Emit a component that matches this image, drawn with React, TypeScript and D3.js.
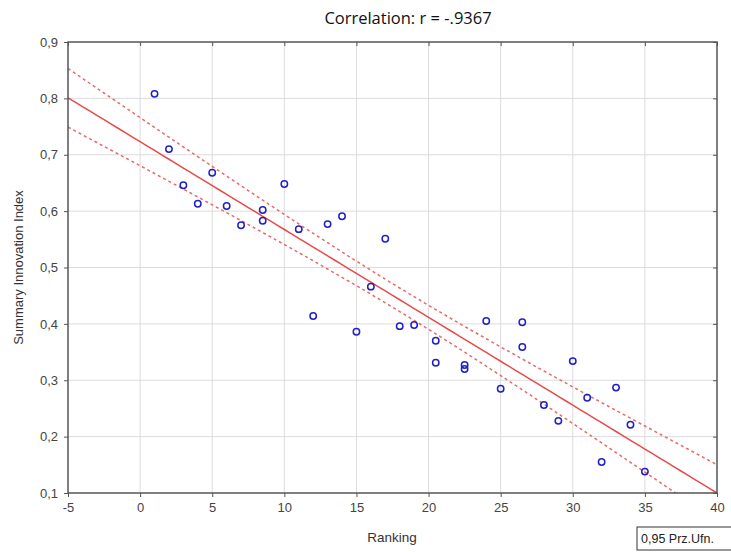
import { useEffect, useRef } from 'react';
import * as d3 from 'd3';

// Ranking (ties averaged) and Summary Innovation Index
const ranking = [
  1, 2, 3, 4, 5, 6, 7, 8.5, 8.5, 10, 11, 12, 13, 14, 15, 16, 17, 18, 19, 20.5, 20.5, 22.5, 22.5, 24,
  25, 26.5, 26.5, 28, 29, 30, 31, 32, 33, 34, 35,
];
const innovationIndex = [
  0.808, 0.71, 0.646, 0.613, 0.668, 0.609, 0.575, 0.602, 0.583, 0.648, 0.568, 0.414, 0.577, 0.591,
  0.386, 0.466, 0.551, 0.396, 0.398, 0.37, 0.331, 0.327, 0.32, 0.405, 0.285, 0.403, 0.359, 0.256,
  0.228, 0.334, 0.269, 0.155, 0.287, 0.221, 0.138,
];
const xTicks = [-5, 0, 5, 10, 15, 20, 25, 30, 35, 40];
const yTicks = [0.1, 0.2, 0.3, 0.4, 0.5, 0.6, 0.7, 0.8, 0.9];

const WIDTH = 731;
const HEIGHT = 552;
const margin = { top: 42, right: 14, bottom: 59, left: 68 };

export default function App() {
  const svgRef = useRef<SVGSVGElement>(null);

  useEffect(() => {
    const svg = d3.select(svgRef.current);
    svg.selectAll('*').remove();

    const x = d3.scaleLinear().domain([-5, 40]).range([margin.left, WIDTH - margin.right]);
    const y = d3.scaleLinear().domain([0.1, 0.9]).range([HEIGHT - margin.bottom, margin.top]);
    const fmt = (v: number) => d3.format('.1f')(v).replace('.', ',');

    // regression + 95% confidence band of the mean
    const n = ranking.length;
    const mx = d3.mean(ranking)!;
    const my = d3.mean(innovationIndex)!;
    const sxx = d3.sum(ranking, (v) => (v - mx) ** 2);
    const sxy = d3.sum(ranking, (v, i) => (v - mx) * (innovationIndex[i] - my));
    const slope = sxy / sxx;
    const icpt = my - slope * mx;
    const sse = d3.sum(ranking, (v, i) => (innovationIndex[i] - (icpt + slope * v)) ** 2);
    const s = Math.sqrt(sse / (n - 2));
    const t = 2.0345;
    const xs = d3.range(-5, 40.01, 0.5);
    const half = (v: number) => t * s * Math.sqrt(1 / n + (v - mx) ** 2 / sxx);

    const plot = svg.append('g');
    plot
      .append('clipPath')
      .attr('id', 'clip')
      .append('rect')
      .attr('x', margin.left)
      .attr('y', margin.top)
      .attr('width', WIDTH - margin.left - margin.right)
      .attr('height', HEIGHT - margin.top - margin.bottom);

    // grid
    plot
      .selectAll('.gx')
      .data(xTicks.slice(1, -1))
      .enter()
      .append('line')
      .attr('x1', (d) => x(d))
      .attr('x2', (d) => x(d))
      .attr('y1', margin.top)
      .attr('y2', HEIGHT - margin.bottom)
      .attr('stroke', '#dcdcdc');
    plot
      .selectAll('.gy')
      .data(yTicks.slice(1, -1))
      .enter()
      .append('line')
      .attr('x1', margin.left)
      .attr('x2', WIDTH - margin.right)
      .attr('y1', (d) => y(d))
      .attr('y2', (d) => y(d))
      .attr('stroke', '#dcdcdc');

    const line = d3
      .line<number>()
      .x((d) => x(d));
    const lines = plot.append('g').attr('clip-path', 'url(#clip)');
    lines
      .append('path')
      .attr('d', line.y((d) => y(icpt + slope * d))(xs))
      .attr('fill', 'none')
      .attr('stroke', '#e84a4a')
      .attr('stroke-width', 1.5);
    [1, -1].forEach((sign) => {
      lines
        .append('path')
        .attr('d', line.y((d) => y(icpt + slope * d + sign * half(d)))(xs))
        .attr('fill', 'none')
        .attr('stroke', '#e86a6a')
        .attr('stroke-width', 1.5)
        .attr('stroke-dasharray', '3,3');
    });

    // points
    plot
      .selectAll('circle')
      .data(ranking)
      .enter()
      .append('circle')
      .attr('cx', (d) => x(d))
      .attr('cy', (_d, i) => y(innovationIndex[i]))
      .attr('r', 3.2)
      .attr('fill', 'none')
      .attr('stroke', '#2020c8')
      .attr('stroke-width', 1.5);

    // frame
    plot
      .append('rect')
      .attr('x', margin.left)
      .attr('y', margin.top)
      .attr('width', WIDTH - margin.left - margin.right)
      .attr('height', HEIGHT - margin.top - margin.bottom)
      .attr('fill', 'none')
      .attr('stroke', '#555')
      .attr('stroke-width', 1.5);

    // axes
    const axisStyle = (g: d3.Selection<SVGGElement, unknown, null, undefined>) => {
      g.select('.domain').remove();
      g.selectAll('line').attr('stroke', '#555');
      g.selectAll('text')
        .attr('fill', '#444')
        .style('font-family', 'Liberation Sans, Arial, sans-serif')
        .style('font-size', '13px');
    };
    svg
      .append('g')
      .attr('transform', `translate(0,${HEIGHT - margin.bottom})`)
      .call(d3.axisBottom(x).tickValues(xTicks).tickSize(4).tickPadding(6).tickFormat((d) => String(d)))
      .call(axisStyle);
    svg
      .append('g')
      .attr('transform', `translate(0,${margin.top})`)
      .call(d3.axisBottom(x).tickValues(xTicks).tickSize(4).tickFormat(() => ''))
      .call(axisStyle);
    svg
      .append('g')
      .attr('transform', `translate(${margin.left},0)`)
      .call(d3.axisLeft(y).tickValues(yTicks).tickSize(4).tickPadding(6).tickFormat((d) => fmt(+d)))
      .call(axisStyle);
    svg
      .append('g')
      .attr('transform', `translate(${WIDTH - margin.right},0)`)
      .call(d3.axisLeft(y).tickValues(yTicks).tickSize(4).tickFormat(() => ''))
      .call(axisStyle);

    // titles
    svg
      .append('text')
      .attr('x', 408)
      .attr('y', 24)
      .attr('text-anchor', 'middle')
      .attr('fill', '#111')
      .style('font-family', 'Open Sans, Noto Sans, sans-serif')
      .style('font-size', '16.5px')
      .text('Correlation: r = -.9367');
    svg
      .append('text')
      .attr('x', 392)
      .attr('y', 542)
      .attr('text-anchor', 'middle')
      .attr('fill', '#333')
      .style('font-family', 'Liberation Sans, Arial, sans-serif')
      .style('font-size', '13.5px')
      .text('Ranking');
    svg
      .append('text')
      .attr('transform', `translate(23,${(margin.top + HEIGHT - margin.bottom) / 2}) rotate(-90)`)
      .attr('text-anchor', 'middle')
      .attr('fill', '#333')
      .style('font-family', 'Liberation Sans, Arial, sans-serif')
      .style('font-size', '13px')
      .text('Summary Innovation Index');

    // legend box
    const lg = svg.append('g').attr('transform', 'translate(637,527)');
    lg.append('rect')
      .attr('width', 100)
      .attr('height', 23)
      .attr('fill', '#fff')
      .attr('stroke', '#333');
    lg.append('text')
      .attr('x', 4)
      .attr('y', 16)
      .attr('fill', '#222')
      .style('font-family', 'Liberation Sans, Arial, sans-serif')
      .style('font-size', '12.5px')
      .text('0,95 Prz.Ufn.');
  }, []);

  return (
    <div style={{ position: 'absolute', left: 0, top: 0 }}>
      <svg ref={svgRef} width={WIDTH} height={HEIGHT} style={{ display: 'block', background: '#fff' }} />
    </div>
  );
}
